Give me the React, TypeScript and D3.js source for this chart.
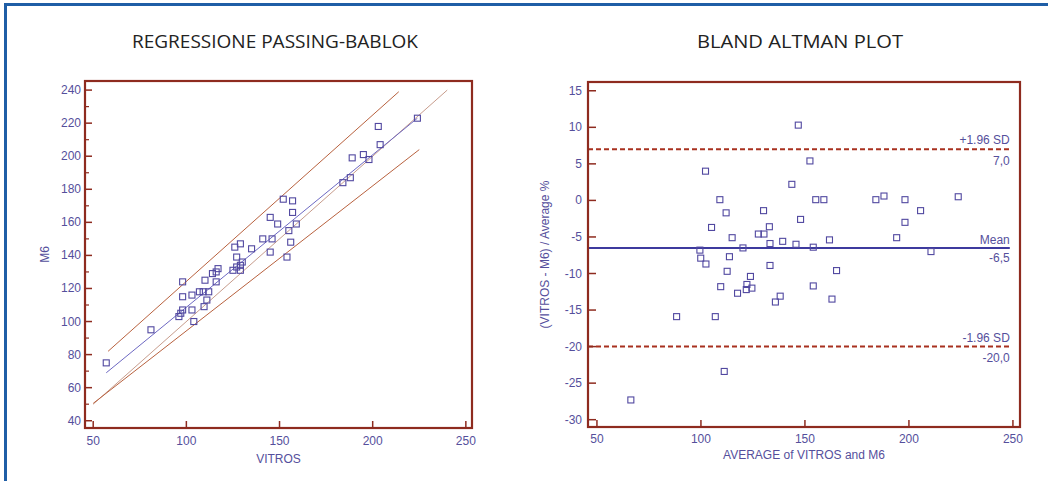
import React from 'react';
import * as d3 from 'd3';

// Passing-Bablok scatter: VITROS vs M6
const vitros = [57, 81, 98, 98, 98, 96, 97, 103, 104, 103, 107, 109, 112, 110, 111, 109.5, 116, 114, 116, 117,
  125, 126, 129, 127, 127, 129, 129, 130, 135, 141, 146, 145, 145, 149, 152, 157, 157, 159, 155, 156,
  154, 184, 188, 189, 195, 198, 203, 204, 224];
const m6 = [75, 95, 124, 115, 107, 103, 105, 107, 100, 116, 118, 118, 118, 125, 113, 109, 124, 129, 130, 132,
  131, 145, 147, 139, 133, 134, 131, 136, 144, 150, 150, 142, 163, 159, 174, 173, 166, 159, 155, 148,
  139, 184, 187, 199, 201, 198, 218, 207, 223];

// fitted lines [x0, x1] / [y0, y1]
const regX = [57, 224];
const regY = [69, 223];
const upperX = [58, 214];
const upperY = [82, 239];
const lowerX = [50, 225];
const lowerY = [50.5, 204];
const identX = [50, 240];
const identY = [50, 240];

// Bland-Altman
const baAvg = [66.3, 88.3, 99.5, 99.9, 102.4, 102.2, 105.1, 106.9, 109.1, 109.5, 111.2, 112.1, 112.6, 113.7,
  115.0, 117.6, 120.2, 121.8, 122.1, 123.8, 124.5, 127.6, 130.1, 130.3, 132.9, 133.2, 133.2, 135.8, 138.1,
  139.3, 143.7, 145.7, 146.8, 147.9, 152.4, 154.0, 154.0, 155.2, 159.1, 161.8, 163.0, 165.2, 184.1, 188.0,
  194.1, 198.1, 198.1, 205.6, 210.6, 223.7];
const baDiff = [-27.3, -15.9, -6.8, -7.9, -8.7, 4.0, -3.7, -15.9, 0.1, -11.8, -23.4, -1.7, -9.7, -7.7,
  -5.1, -12.7, -6.5, -12.2, -11.5, -10.4, -12.0, -4.6, -1.4, -4.6, -3.6, -5.9, -8.9, -13.9, -13.1,
  -5.6, 2.2, -6.0, 10.3, -2.6, 5.4, -6.4, -11.7, 0.1, 0.1, -5.4, -13.5, -9.6, 0.1, 0.6,
  -5.1, 0.1, -3.0, -1.4, -7.0, 0.5];
const baMean = -6.5;
const baUpper = 7.0;
const baLower = -20.0;

const xTicksL = [50, 100, 150, 200, 250];
const yTicksL = [40, 60, 80, 100, 120, 140, 160, 180, 200, 220, 240];
const yMinorL = [50, 70, 90, 110, 130, 150, 170, 190, 210, 230];
const xTicksR = [50, 100, 150, 200, 250];
const yTicksR = [15, 10, 5, 0, -5, -10, -15, -20, -25, -30];

const AXIS = '#8e2b1f';
const LABEL = '#554f9c';
const MARK = '#5148a0';
const FONT = '"Liberation Sans", Arial, sans-serif';
const TITLE_FONT = '"Open Sans", "DejaVu Sans Condensed", sans-serif';

const Square = ({ x, y }: { x: number; y: number }) => (
  <rect x={x - 3} y={y - 3} width={6} height={6} fill="none" stroke={MARK} strokeWidth={1.1} />
);

const App = () => {
  // left chart
  const L = { left: 85, right: 472, top: 81, bottom: 428 };
  const xL = d3.scaleLinear().domain([45.6, 253.3]).range([L.left, L.right]);
  const yL = d3.scaleLinear().domain([35.6, 245.5]).range([L.bottom, L.top]);
  const seg = d3.line<[number, number]>().x(d => xL(d[0])).y(d => yL(d[1]));
  const mk = (xs: number[], ys: number[]) => seg(xs.map((v, i) => [v, ys[i]] as [number, number])) || '';

  // right chart
  const R = { left: 588, right: 1020, top: 82, bottom: 427 };
  const xR = d3.scaleLinear().domain([45.7, 253.4]).range([R.left, R.right]);
  const yR = d3.scaleLinear().domain([-31, 16.2]).range([R.bottom, R.top]);
  const lineEnd = xR(248.5);

  const fmt = (v: number) => v.toFixed(1).replace('.', ',');

  return (
    <svg width={1048} height={481} style={{ position: 'absolute', left: 0, top: 0, background: '#fff' }}>
      {/* page frame */}
      <line x1={4} x2={1048} y1={4.5} y2={4.5} stroke="#1f5ea6" strokeWidth={3} />
      <line x1={5.5} x2={5.5} y1={3} y2={481} stroke="#1f5ea6" strokeWidth={3} />

      <text x={275} y={48} textAnchor="middle" fontFamily={TITLE_FONT}
        fontSize={19} fill="#222" textLength={286} lengthAdjust="spacingAndGlyphs">REGRESSIONE PASSING-BABLOK</text>
      <text x={800} y={48} textAnchor="middle" fontFamily={TITLE_FONT}
        fontSize={19} fill="#222" textLength={206} lengthAdjust="spacingAndGlyphs">BLAND ALTMAN PLOT</text>

      {/* ---------- Passing-Bablok ---------- */}
      <g>
        <path d={mk(identX, identY)} stroke="#c79c8c" strokeWidth={1} fill="none" />
        <path d={mk(upperX, upperY)} stroke="#b8613e" strokeWidth={1} fill="none" />
        <path d={mk(lowerX, lowerY)} stroke="#b8613e" strokeWidth={1} fill="none" />
        <path d={mk(regX, regY)} stroke="#6d68c2" strokeWidth={1} fill="none" />
        {vitros.map((v, i) => <Square key={i} x={xL(v)} y={yL(m6[i])} />)}

        <rect x={L.left} y={L.top} width={L.right - L.left} height={L.bottom - L.top} fill="none" stroke={AXIS} strokeWidth={2.2} />
        {yTicksL.map(t => (
          <g key={t}>
            <line x1={L.left} x2={L.left + 7} y1={yL(t)} y2={yL(t)} stroke={AXIS} strokeWidth={1.5} />
            <text x={L.left - 4} y={yL(t) + 4} textAnchor="end" fontFamily={FONT} fontSize={12} fill={LABEL}>{t}</text>
          </g>
        ))}
        {yMinorL.map(t => (
          <line key={t} x1={L.left} x2={L.left + 4} y1={yL(t)} y2={yL(t)} stroke={AXIS} strokeWidth={1.2} />
        ))}
        {xTicksL.map(t => (
          <g key={t}>
            <line x1={xL(t)} x2={xL(t)} y1={L.bottom} y2={L.bottom - 7} stroke={AXIS} strokeWidth={1.5} />
            <text x={xL(t)} y={445} textAnchor="middle" fontFamily={FONT} fontSize={12} fill={LABEL}>{t}</text>
          </g>
        ))}
        <text x={(L.left + L.right) / 2} y={463} textAnchor="middle" fontFamily={FONT} fontSize={12} fill={LABEL}>VITROS</text>
        <text transform={`translate(49,${(L.top + L.bottom) / 2}) rotate(-90)`} textAnchor="middle" fontFamily={FONT} fontSize={12} fill={LABEL}>M6</text>
      </g>

      {/* ---------- Bland-Altman ---------- */}
      <g>
        <line x1={R.left} x2={lineEnd} y1={yR(baUpper)} y2={yR(baUpper)} stroke="#a8311f" strokeWidth={2} strokeDasharray="5,3" />
        <line x1={R.left} x2={lineEnd} y1={yR(baLower)} y2={yR(baLower)} stroke="#a8311f" strokeWidth={2} strokeDasharray="5,3" />
        <line x1={R.left} x2={lineEnd} y1={yR(baMean)} y2={yR(baMean)} stroke="#3d3a9e" strokeWidth={2} />
        {baAvg.map((a, i) => <Square key={i} x={xR(a)} y={yR(baDiff[i])} />)}

        <g fontFamily={FONT} fontSize={12} fill={LABEL} textAnchor="end">
          <text x={lineEnd} y={yR(baUpper) - 5}>+1.96 SD</text>
          <text x={lineEnd} y={yR(baUpper) + 16}>{fmt(baUpper)}</text>
          <text x={lineEnd} y={yR(baMean) - 4}>Mean</text>
          <text x={lineEnd} y={yR(baMean) + 14}>{fmt(baMean)}</text>
          <text x={lineEnd} y={yR(baLower) - 5}>-1.96 SD</text>
          <text x={lineEnd} y={yR(baLower) + 15}>{fmt(baLower)}</text>
        </g>

        <rect x={R.left} y={R.top} width={R.right - R.left} height={R.bottom - R.top} fill="none" stroke={AXIS} strokeWidth={2.2} />
        {yTicksR.map(t => (
          <g key={t}>
            <line x1={R.left} x2={R.left + 8} y1={yR(t)} y2={yR(t)} stroke={AXIS} strokeWidth={1.5} />
            <text x={R.left - 6} y={yR(t) + 4} textAnchor="end" fontFamily={FONT} fontSize={12} fill={LABEL}>{t}</text>
          </g>
        ))}
        {xTicksR.map(t => (
          <g key={t}>
            <line x1={xR(t)} x2={xR(t)} y1={R.bottom} y2={R.bottom - 7} stroke={AXIS} strokeWidth={1.5} />
            <text x={xR(t)} y={443} textAnchor="middle" fontFamily={FONT} fontSize={12} fill={LABEL}>{t}</text>
          </g>
        ))}
        <text x={(R.left + R.right) / 2} y={459} textAnchor="middle" fontFamily={FONT} fontSize={12} fill={LABEL}>AVERAGE of VITROS and M6</text>
        <text transform={`translate(549,${(R.top + R.bottom) / 2}) rotate(-90)`} textAnchor="middle" fontFamily={FONT} fontSize={12} fill={LABEL}>(VITROS - M6) / Average %</text>
      </g>
    </svg>
  );
};

export default App;
